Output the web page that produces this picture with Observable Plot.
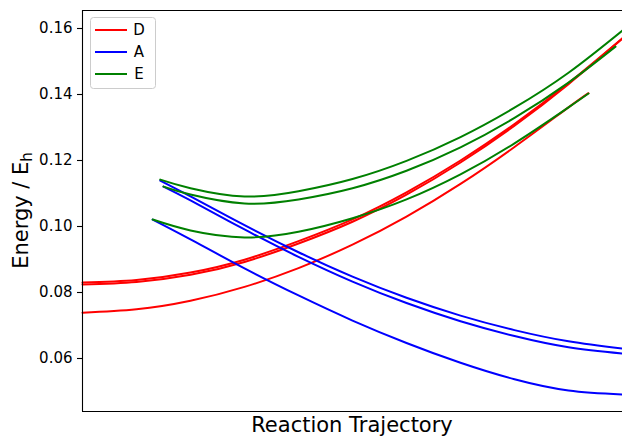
<!DOCTYPE html>
<html><head><meta charset="utf-8">
<script src="https://cdn.jsdelivr.net/npm/d3@7"></script>
<script src="https://cdn.jsdelivr.net/npm/@observablehq/plot@0.6"></script>
<style>html,body{margin:0;padding:0;background:#fff}#chart svg{display:block}</style>
</head><body><div id="chart"></div>
<script>
// ---- data ----
const seriesNames = ["D", "A", "E"];
const xLabel = "Reaction Trajectory";
const yLabelMain = "Energy / E";
const yLabelSub = "h";
const yTicks = [0.06, 0.08, 0.10, 0.12, 0.14, 0.16];
const xDomain = [0, 100];
const yDomain = [0.04394, 0.165455];

const tD1 = [0, 10, 20, 30, 40, 50, 60, 70, 80, 90, 100];
const D1a = [0.0830, 0.0838, 0.08605, 0.08995, 0.09555, 0.10215, 0.11035, 0.1200, 0.13105, 0.14345, 0.15705];
const D1b = [0.0824, 0.0832, 0.08535, 0.08925, 0.09485, 0.10145, 0.10965, 0.1194, 0.13055, 0.14315, 0.15695];
const tD2 = [0, 10, 20, 30, 40, 50, 60, 70, 80, 90, 93.7];
const D2 = [0.0739, 0.0749, 0.0775, 0.0817, 0.0874, 0.0945, 0.1030, 0.1129, 0.1241, 0.1361, 0.1404];

const tA1 = [14.4, 20, 30, 40, 50, 60, 70, 80, 90, 100];
const A1 = [0.1139, 0.1091, 0.1004, 0.0922, 0.0848, 0.0784, 0.0730, 0.0686, 0.0652, 0.0630];
const tA2 = [15, 20, 30, 40, 50, 60, 70, 80, 90, 100];
const A2 = [0.1121, 0.1079, 0.0991, 0.0908, 0.0833, 0.0768, 0.0713, 0.0668, 0.0634, 0.0615];
const tA3 = [13, 20, 30, 40, 50, 60, 70, 80, 90, 100];
const A3 = [0.1021, 0.0961, 0.0873, 0.0791, 0.0715, 0.0647, 0.0587, 0.0537, 0.0503, 0.0491];

const tE1 = [14.4, 20, 30, 40, 50, 60, 70, 80, 90, 100];
const E1 = [0.1142, 0.1116, 0.1091, 0.1107, 0.1144, 0.1199, 0.1271, 0.1360, 0.1466, 0.1594];
const tE2 = [15, 20, 30, 40, 50, 60, 70, 80, 90, 98.7];
const E2 = [0.1121, 0.1097, 0.1070, 0.1082, 0.1116, 0.1169, 0.1240, 0.1329, 0.1436, 0.1545];
const tE3 = [13, 20, 30, 40, 50, 60, 70, 80, 90, 93.7];
const E3 = [0.1021, 0.0988, 0.0967, 0.0984, 0.1025, 0.1082, 0.1158, 0.1252, 0.1361, 0.1403];

// ---- styles ----
const seriesColors = ["#ff0000", "#0000ff", "#008000"];
const FONT = "DejaVu Sans";

// ---- build table ----
const rows = [];
function add(series, curve, ts, es) { ts.forEach((t, i) => rows.push({series, curve, t, e: es[i]})); }
add("D", "D1a", tD1, D1a);
add("D", "D1b", tD1, D1b);
add("D", "D2", tD2, D2);
add("A", "A1", tA1, A1);
add("A", "A2", tA2, A2);
add("A", "A3", tA3, A3);
add("E", "E1", tE1, E1);
add("E", "E2", tE2, E2);
add("E", "E3", tE3, E3);

const lineMark = (s) => Plot.line(rows.filter(d => d.series === s), {
  x: "t", y: "e", z: "curve", stroke: "series", strokeWidth: 2, curve: "natural"
});

const plot = Plot.plot({
  width: 622, height: 439,
  marginLeft: 82, marginRight: 0, marginTop: 10, marginBottom: 28,
  style: {fontFamily: FONT, fontSize: "15px", background: "#fff", color: "#000"},
  x: {domain: xDomain, axis: null},
  y: {domain: yDomain},
  color: {domain: seriesNames, range: seriesColors},
  marks: [
    Plot.axisY({ticks: yTicks, tickFormat: d3.format(".2f"), tickSize: 5, tickPadding: 5, label: null, fontSize: 15, strokeWidth: 1.1}),
    lineMark("D"),
    lineMark("A"),
    lineMark("E"),
    Plot.ruleX([xDomain[0]], {stroke: "#000", strokeWidth: 1.1}),
    Plot.ruleY(yDomain, {stroke: "#000", strokeWidth: 1.1})
  ]
});

const svg = d3.select(plot);
// axis labels
svg.append("text")
  .attr("x", 352).attr("y", 432)
  .attr("text-anchor", "middle")
  .attr("font-family", FONT).attr("font-size", 21).attr("fill", "#000")
  .text(xLabel);
const yl = svg.append("text")
  .attr("transform", "translate(27.5,210.5) rotate(-90)")
  .attr("text-anchor", "middle")
  .attr("font-family", FONT).attr("font-size", 21).attr("fill", "#000");
yl.append("tspan").text(yLabelMain);
yl.append("tspan").attr("font-size", 15).attr("dy", 4).text(yLabelSub);

// legend
const lg = svg.append("g");
lg.append("rect").attr("x", 90.5).attr("y", 17.5).attr("width", 65).attr("height", 71).attr("rx", 3)
  .attr("fill", "#fff").attr("fill-opacity", 0.8).attr("stroke", "#cccccc").attr("stroke-width", 1);
seriesNames.forEach((name, i) => {
  const y = 30 + i * 22;
  lg.append("line").attr("x1", 95).attr("x2", 127).attr("y1", y).attr("y2", y)
    .attr("stroke", seriesColors[i]).attr("stroke-width", 2);
  lg.append("text").attr("x", 139).attr("y", y).attr("dy", "0.36em")
    .attr("font-family", FONT).attr("font-size", 15).attr("fill", "#000").text(name);
});

document.getElementById("chart").appendChild(plot);
</script>
</body></html>
